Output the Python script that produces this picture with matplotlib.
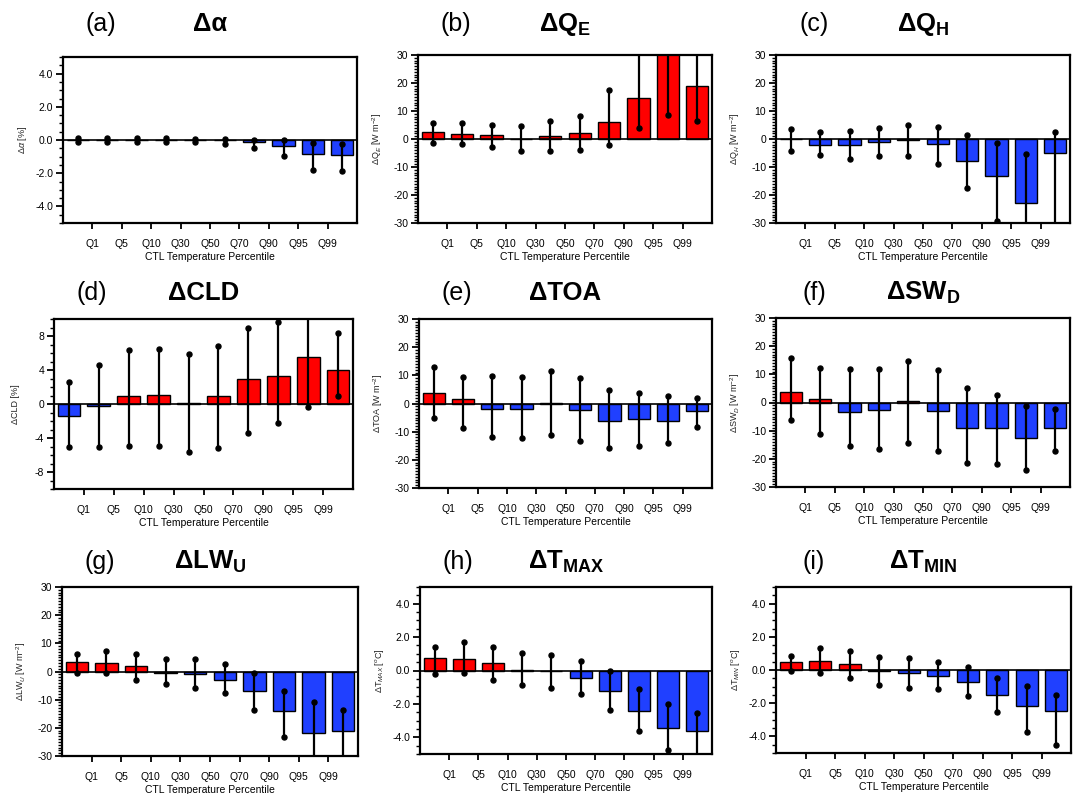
import numpy as np
import matplotlib
matplotlib.use("Agg")
import matplotlib.pyplot as plt
from matplotlib.ticker import MultipleLocator, FormatStrFormatter

plt.rcParams['font.family'] = ['Liberation Sans', 'DejaVu Sans']
plt.rcParams['mathtext.fontset'] = 'custom'
plt.rcParams['mathtext.rm'] = 'Liberation Sans'
plt.rcParams['mathtext.it'] = 'Liberation Sans:italic'
plt.rcParams['mathtext.bf'] = 'Liberation Sans:bold'
plt.rcParams['axes.unicode_minus'] = False

# x tick labels (placed between bars, as in the original)
pct_labels = ['Q1', 'Q5', 'Q10', 'Q30', 'Q50', 'Q70', 'Q90', 'Q95', 'Q99']

# (a) albedo change [%]
alb_val = [-0.02, -0.02, -0.02, -0.02, -0.02, -0.03, -0.12, -0.34, -0.84, -0.90]
alb_hi = [0.10, 0.10, 0.15, 0.13, 0.08, 0.06, 0.02, 0.00, -0.18, -0.24]
alb_lo = [-0.12, -0.10, -0.12, -0.13, -0.14, -0.22, -0.48, -0.94, -1.78, -1.88]

# (b) latent heat flux
qe_val = [2.6, 1.9, 1.3, 0.1, 1.1, 2.0, 6.1, 14.6, 31.5, 18.9]
qe_hi = [5.6, 5.6, 5.1, 4.8, 6.5, 8.2, 17.5, 36.0, 40.0, 35.0]
qe_lo = [-1.5, -1.7, -3.0, -4.3, -4.3, -3.8, -2.1, 3.9, 8.7, 6.5]

# (c) sensible heat flux
qh_val = [-0.1, -2.1, -2.0, -1.1, -0.4, -1.9, -7.9, -13.2, -22.7, -4.9]
qh_hi = [3.6, 2.5, 2.7, 3.9, 5.1, 4.3, 1.3, -1.5, -5.5, 2.5]
qh_lo = [-4.3, -5.7, -7.3, -6.1, -6.0, -8.9, -17.6, -29.3, -35.0, -35.0]

# (d) cloud cover [%]
cld_val = [-1.44, -0.27, 0.90, 1.05, 0.10, 1.00, 2.90, 3.26, 5.55, 4.00]
cld_hi = [2.6, 4.6, 6.3, 6.45, 5.85, 6.83, 8.93, 9.7, 12.0, 8.35]
cld_lo = [-5.0, -5.0, -4.9, -4.9, -5.67, -5.13, -3.38, -2.25, -0.3, 0.9]

# (e) top of atmosphere
toa_val = [3.8, 1.5, -2.1, -1.9, 0.2, -2.3, -6.2, -5.4, -6.3, -2.6]
toa_hi = [12.9, 9.4, 9.6, 9.3, 11.5, 9.2, 4.9, 3.6, 2.5, 1.8]
toa_lo = [-5.0, -8.8, -11.8, -12.4, -11.2, -13.3, -15.8, -15.1, -14.0, -8.5]

# (f) downward shortwave
swd_val = [3.6, 1.2, -3.2, -2.6, 0.4, -3.1, -8.9, -9.2, -12.6, -8.9]
swd_hi = [15.8, 12.3, 11.9, 11.9, 14.9, 11.4, 5.2, 2.6, -1.3, -2.3]
swd_lo = [-6.1, -11.3, -15.5, -16.4, -14.3, -17.1, -21.4, -21.8, -24.0, -17.3]

# (g) upward longwave
lwu_val = [3.3, 3.0, 2.1, -0.6, -0.8, -2.9, -6.9, -13.9, -21.7, -21.3]
lwu_hi = [6.1, 7.4, 6.3, 4.4, 4.4, 2.5, -0.6, -6.8, -10.8, -13.6]
lwu_lo = [-0.6, -0.6, -2.9, -4.6, -6.0, -7.7, -13.8, -23.2, -35.0, -35.0]

# (h) daily max temperature
tmax_val = [0.73, 0.69, 0.44, 0.04, -0.04, -0.46, -1.25, -2.44, -3.43, -3.62]
tmax_hi = [1.43, 1.68, 1.43, 1.03, 0.93, 0.57, -0.04, -1.11, -1.98, -2.55]
tmax_lo = [-0.22, -0.12, -0.59, -0.87, -1.05, -1.43, -2.38, -3.60, -4.77, -5.50]

# (i) daily min temperature
tmin_val = [0.46, 0.57, 0.38, -0.04, -0.18, -0.34, -0.73, -1.49, -2.16, -2.44]
tmin_hi = [0.87, 1.31, 1.13, 0.79, 0.71, 0.46, 0.16, -0.51, -0.97, -1.52]
tmin_lo = [-0.04, -0.20, -0.46, -0.89, -1.09, -1.13, -1.54, -2.53, -3.74, -4.53]

W, H = 1079, 794
RED = '#ff0000'
BLUE = '#2040ff'

panels = [
    # tag, title, ylabel, values, hi, lo, ylim, major, minor, fmt, box(px: left, top, right, bottom)
    ('(a)', 'Δα', r'$\Delta\alpha$ [%]', alb_val, alb_hi, alb_lo, 5, 2, 0.5, '%.1f', (63, 57, 357, 223)),
    ('(b)', r'$\mathbf{\Delta Q_E}$', r'$\Delta$Q$_E$ [W m$^{-2}$]', qe_val, qe_hi, qe_lo, 30, 10, 1, '%d', (418, 55, 712, 223)),
    ('(c)', r'$\mathbf{\Delta Q_H}$', r'$\Delta$Q$_H$ [W m$^{-2}$]', qh_val, qh_hi, qh_lo, 30, 10, 1, '%d', (776, 55, 1070, 223)),
    ('(d)', 'ΔCLD', 'ΔCLD [%]', cld_val, cld_hi, cld_lo, 10, 4, 1, '%d', (54, 319, 353, 489)),
    ('(e)', 'ΔTOA', r'$\Delta$TOA [W m$^{-2}$]', toa_val, toa_hi, toa_lo, 30, 10, 1, '%d', (419, 319, 712, 488)),
    ('(f)', r'$\mathbf{\Delta SW_D}$', r'$\Delta$SW$_D$ [W m$^{-2}$]', swd_val, swd_hi, swd_lo, 30, 10, 1, '%d', (776, 318, 1070, 487)),
    ('(g)', r'$\mathbf{\Delta LW_U}$', r'$\Delta$LW$_U$ [W m$^{-2}$]', lwu_val, lwu_hi, lwu_lo, 30, 10, 1, '%d', (62, 587, 358, 756)),
    ('(h)', r'$\mathbf{\Delta T_{MAX}}$', r'$\Delta$T$_{MAX}$ [$^o$C]', tmax_val, tmax_hi, tmax_lo, 5, 2, 0.5, '%.1f', (420, 587, 712, 754)),
    ('(i)', r'$\mathbf{\Delta T_{MIN}}$', r'$\Delta$T$_{MIN}$ [$^o$C]', tmin_val, tmin_hi, tmin_lo, 5, 2, 0.5, '%.1f', (776, 587, 1071, 753)),
]
title_y = [24, 293, 562]

fig = plt.figure(figsize=(W / 100, H / 100), dpi=100)

for k, (tag, title, ylab, val, hi, lo, lim, major, minor, fmt, box) in enumerate(panels):
    l, t, r, b = box
    ax = fig.add_axes([l / W, 1 - b / H, (r - l) / W, (b - t) / H])
    x = np.arange(1, 11)
    val = np.array(val)
    colors = [RED if v >= 0 else BLUE for v in val]
    ax.bar(x, val, width=0.76, color=colors, edgecolor='black', linewidth=1.0, zorder=2)
    ax.axhline(0, color='black', lw=1.2, zorder=3)
    ax.vlines(x, lo, hi, color='black', lw=1.6, zorder=4)
    ax.plot(x, hi, 'o', color='black', ms=3.6, zorder=5)
    ax.plot(x, lo, 'o', color='black', ms=3.6, zorder=5)

    ax.set_xlim(0.5, 10.5)
    ax.set_ylim(-lim, lim)
    ax.set_xticks(np.arange(1.5, 10.5, 1.0))
    ax.set_xticklabels(pct_labels, fontsize=7.5)
    ax.yaxis.set_major_locator(MultipleLocator(major))
    ax.yaxis.set_minor_locator(MultipleLocator(minor))
    ax.yaxis.set_major_formatter(FormatStrFormatter(fmt))
    ax.tick_params(axis='y', which='major', direction='out', length=5, width=1.3, labelsize=7.5, pad=2)
    ax.tick_params(axis='y', which='minor', direction='out', length=2.8, width=1.0)
    ax.tick_params(axis='x', which='major', direction='out', length=4.5, width=1.3, pad=7)
    ax.tick_params(right=False, top=False)
    for s in ax.spines.values():
        s.set_linewidth(1.6)

    ax.set_xlabel('CTL Temperature Percentile', fontsize=7.5)
    ax.xaxis.set_label_coords(0.5, -29 / (b - t))
    ax.set_ylabel(ylab, fontsize=6.5, color='#222222')
    ax.yaxis.set_label_coords(-34 / (r - l), 0.5)

    yc = 1 - title_y[k // 3] / H
    fig.text((l + 38) / W, yc, tag, fontsize=18, ha='center', va='center')
    fig.text((l + r) / 2 / W, yc, title, fontsize=18.5, fontweight='bold', ha='center', va='center')

fig.savefig('out.png', dpi=100)
